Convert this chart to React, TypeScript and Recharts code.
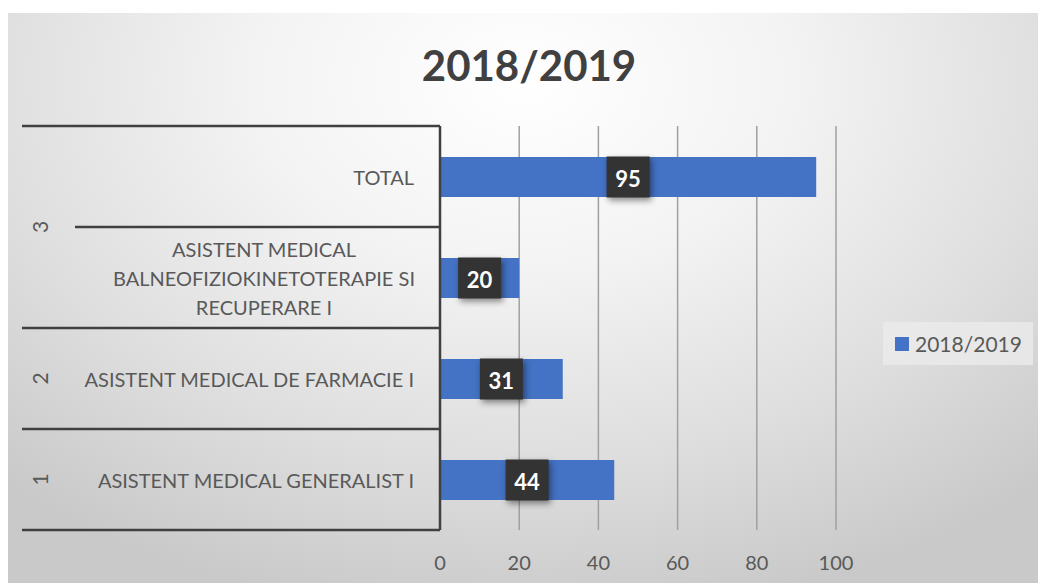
import React from "react";
import {
  BarChart,
  Bar,
  XAxis,
  YAxis,
  CartesianGrid,
  Legend,
  LabelList,
} from "recharts";

// categories top to bottom, as the chart shows them
const categories = [
  "TOTAL",
  "ASISTENT MEDICAL\nBALNEOFIZIOKINETOTERAPIE SI\nRECUPERARE I",
  "ASISTENT MEDICAL DE FARMACIE I",
  "ASISTENT MEDICAL GENERALIST I",
];
const groups = ["3", "3", "2", "1"];
const values = [95, 20, 31, 44];
const xTicks = [0, 20, 40, 60, 80, 100];
const seriesName = "2018/2019";

const data = categories.map((name, i) => ({
  name,
  group: groups[i],
  value: values[i],
}));

const W = 1038;
const H = 583;
const M = { top: 126, right: 202, bottom: 23, left: 0 };
const XH = 30; // x axis height
const YW = 440; // y axis width (plot starts here)
const BAND = (H - M.top - M.bottom - XH) / categories.length;
const LINE = "#404040";
const TEXT = "#595959";

function CategoryTick(props: any) {
  const { y, payload } = props;
  const i: number = props.index ?? payload.index;
  const lines = String(payload.value).split("\n");
  const top = y - BAND / 2;
  const bottom = y + BAND / 2;
  const groupEnds = i === groups.length - 1 || groups[i + 1] !== groups[i];
  const groupStarts = i === 0 || groups[i - 1] !== groups[i];
  let span = 0;
  if (groupStarts) {
    while (groups[i + span] === groups[i]) span++;
  }
  const gy = top + (span * BAND) / 2;
  return (
    <g>
      {i === 0 && (
        <line x1={22} x2={YW} y1={top} y2={top} stroke={LINE} strokeWidth={2.5} />
      )}
      <line
        x1={groupEnds ? 22 : 75}
        x2={YW}
        y1={bottom}
        y2={bottom}
        stroke={LINE}
        strokeWidth={2.5}
      />
      {groupStarts && (
        <text
          x={39}
          y={gy}
          transform={`rotate(-90 39 ${gy})`}
          textAnchor="middle"
          dominantBaseline="central"
          fill={TEXT}
          fontSize={21}>
          {groups[i]}
        </text>
      )}
      {lines.length === 1 ? (
        <text
          x={414}
          y={y}
          textAnchor="end"
          dominantBaseline="central"
          fill={TEXT}
          fontSize={20}>
          {lines[0]}
        </text>
      ) : (
        lines.map((l, k) => (
          <text
            key={k}
            x={264}
            y={y + (k - (lines.length - 1) / 2) * 29}
            textAnchor="middle"
            dominantBaseline="central"
            fill={TEXT}
            fontSize={20}>
            {l}
          </text>
        ))
      )}
    </g>
  );
}

function ValueLabel(props: any) {
  const { x, y, width, height, value } = props;
  const cx = x + width / 2;
  const cy = y + height / 2;
  return (
    <g>
      <rect
        x={cx - 21.5}
        y={cy - 20.5}
        width={43}
        height={41}
        fill="#333333"
        style={{ filter: "drop-shadow(2px 3px 3px rgba(0,0,0,0.45))" }}
      />
      <text
        x={cx}
        y={cy + 1}
        textAnchor="middle"
        dominantBaseline="central"
        fill="#ffffff"
        fontWeight="bold"
        fontSize={22}>
        {value}
      </text>
    </g>
  );
}

function LegendBox() {
  return (
    <div
      style={{
        display: "flex",
        alignItems: "center",
        background: "rgba(235,235,235,0.8)",
        padding: "9px 8px 9px 12px",
        color: TEXT,
        fontSize: 21,
      }}>
      <span
        style={{
          width: 14,
          height: 14,
          background: "#4472C4",
          marginRight: 6,
          display: "inline-block",
        }}
      />
      {seriesName}
    </div>
  );
}

export default function App() {
  return (
    <div
      style={{
        position: "absolute",
        left: 0,
        top: 0,
        width: W,
        height: H,
        background: "#ffffff",
        fontFamily: "Lato, 'Open Sans', sans-serif",
      }}>
      <div
        style={{
          position: "absolute",
          left: 8,
          top: 13,
          width: W - 8,
          height: H - 13,
          background:
            "radial-gradient(ellipse 75% 95% at 50% 12%, #ffffff 0%, #f3f3f3 35%, #dedede 70%, #c9c9c9 100%)",
        }}
      />
      <div
        style={{
          position: "absolute",
          left: 0,
          top: 38,
          width: W + 20,
          textAlign: "center",
          fontWeight: "bold",
          fontSize: 42,
          lineHeight: "54px",
          color: LINE,
        }}>
        2018/2019
      </div>
      <div style={{ position: "absolute", left: 0, top: 0 }}>
        <BarChart width={W} height={H} data={data} layout="vertical" margin={M}>
          <CartesianGrid horizontal={false} stroke="#a0a0a0" strokeWidth={1.5} />
          <XAxis
            type="number"
            domain={[0, 100]}
            ticks={xTicks}
            height={XH}
            axisLine={false}
            tickLine={false}
            tickMargin={20}
            tick={{ fill: TEXT, fontSize: 20 }}
          />
          <YAxis
            type="category"
            dataKey="name"
            width={YW}
            tickLine={false}
            tickSize={0}
            axisLine={{ stroke: LINE, strokeWidth: 2.5 }}
            tick={<CategoryTick />}
            interval={0}
          />
          <Legend
            layout="horizontal"
            align="center"
            verticalAlign="middle"
            wrapperStyle={{ left: 883, top: 322, width: 150 }}
            content={<LegendBox />}
          />
          <Bar
            dataKey="value"
            name={seriesName}
            fill="#4472C4"
            barSize={40}
            isAnimationActive={false}>
            <LabelList dataKey="value" content={<ValueLabel />} />
          </Bar>
        </BarChart>
      </div>
    </div>
  );
}
